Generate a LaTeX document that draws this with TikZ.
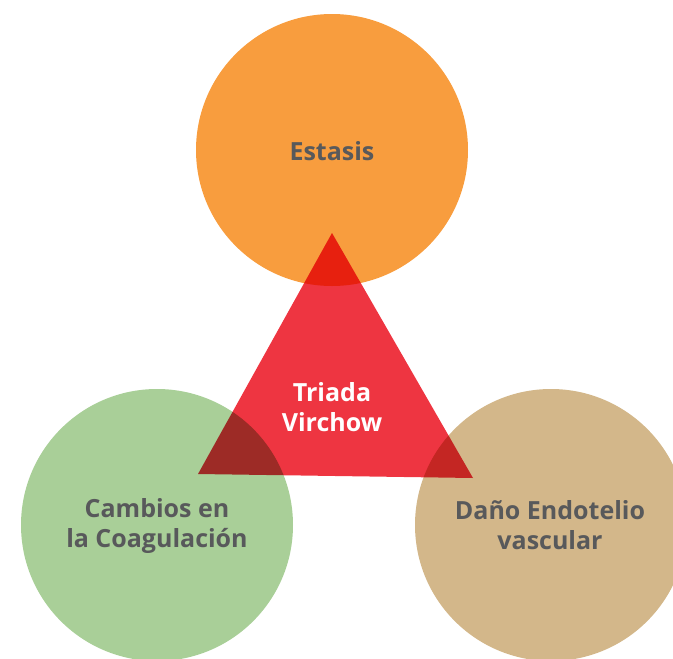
\documentclass[tikz,border=0pt]{standalone}
\usepackage{fontspec}
\setmainfont{Open Sans}
\definecolor{corange}{HTML}{F89D3E}
\definecolor{cgreen}{HTML}{A9CF98}
\definecolor{ctan}{HTML}{D3B78A}
\definecolor{cred}{HTML}{EE3541}
\definecolor{ctext}{HTML}{58595B}
\begin{document}
\begin{tikzpicture}[x=1pt,y=-1pt,
  blob/.style={circle,minimum size=272pt,inner sep=0pt},
  lbl/.style={font=\bfseries\fontsize{25}{30}\selectfont,text=ctext,align=center},
  tlbl/.style={font=\bfseries\fontsize{25}{30}\selectfont,text=white,align=center}]
\useasboundingbox (0,0) rectangle (673,659);
\node[blob,fill=corange] (est) at (332,150) {};
\node[blob,fill=cgreen] (coag) at (157,525) {};
\node[blob,fill=ctan] (dano) at (551,525) {};
\coordinate (ta) at (332,233);
\coordinate (tl) at (198,474);
\coordinate (tr) at (473,478);
\begin{scope}[blend mode=multiply]
\fill[cred] (ta) -- (tl) -- (tr) -- cycle;
\end{scope}
\node[lbl] (estl) at (332,151) {Estasis};
\node[lbl] (coagl) at (157,526) {Cambios en\\la Coagulación};
\node[lbl] (danol) at (550,525) {Daño Endotelio\\vascular};
\node[tlbl] (tri) at (332,407) {Triada\\Virchow};
\end{tikzpicture}
\end{document}
